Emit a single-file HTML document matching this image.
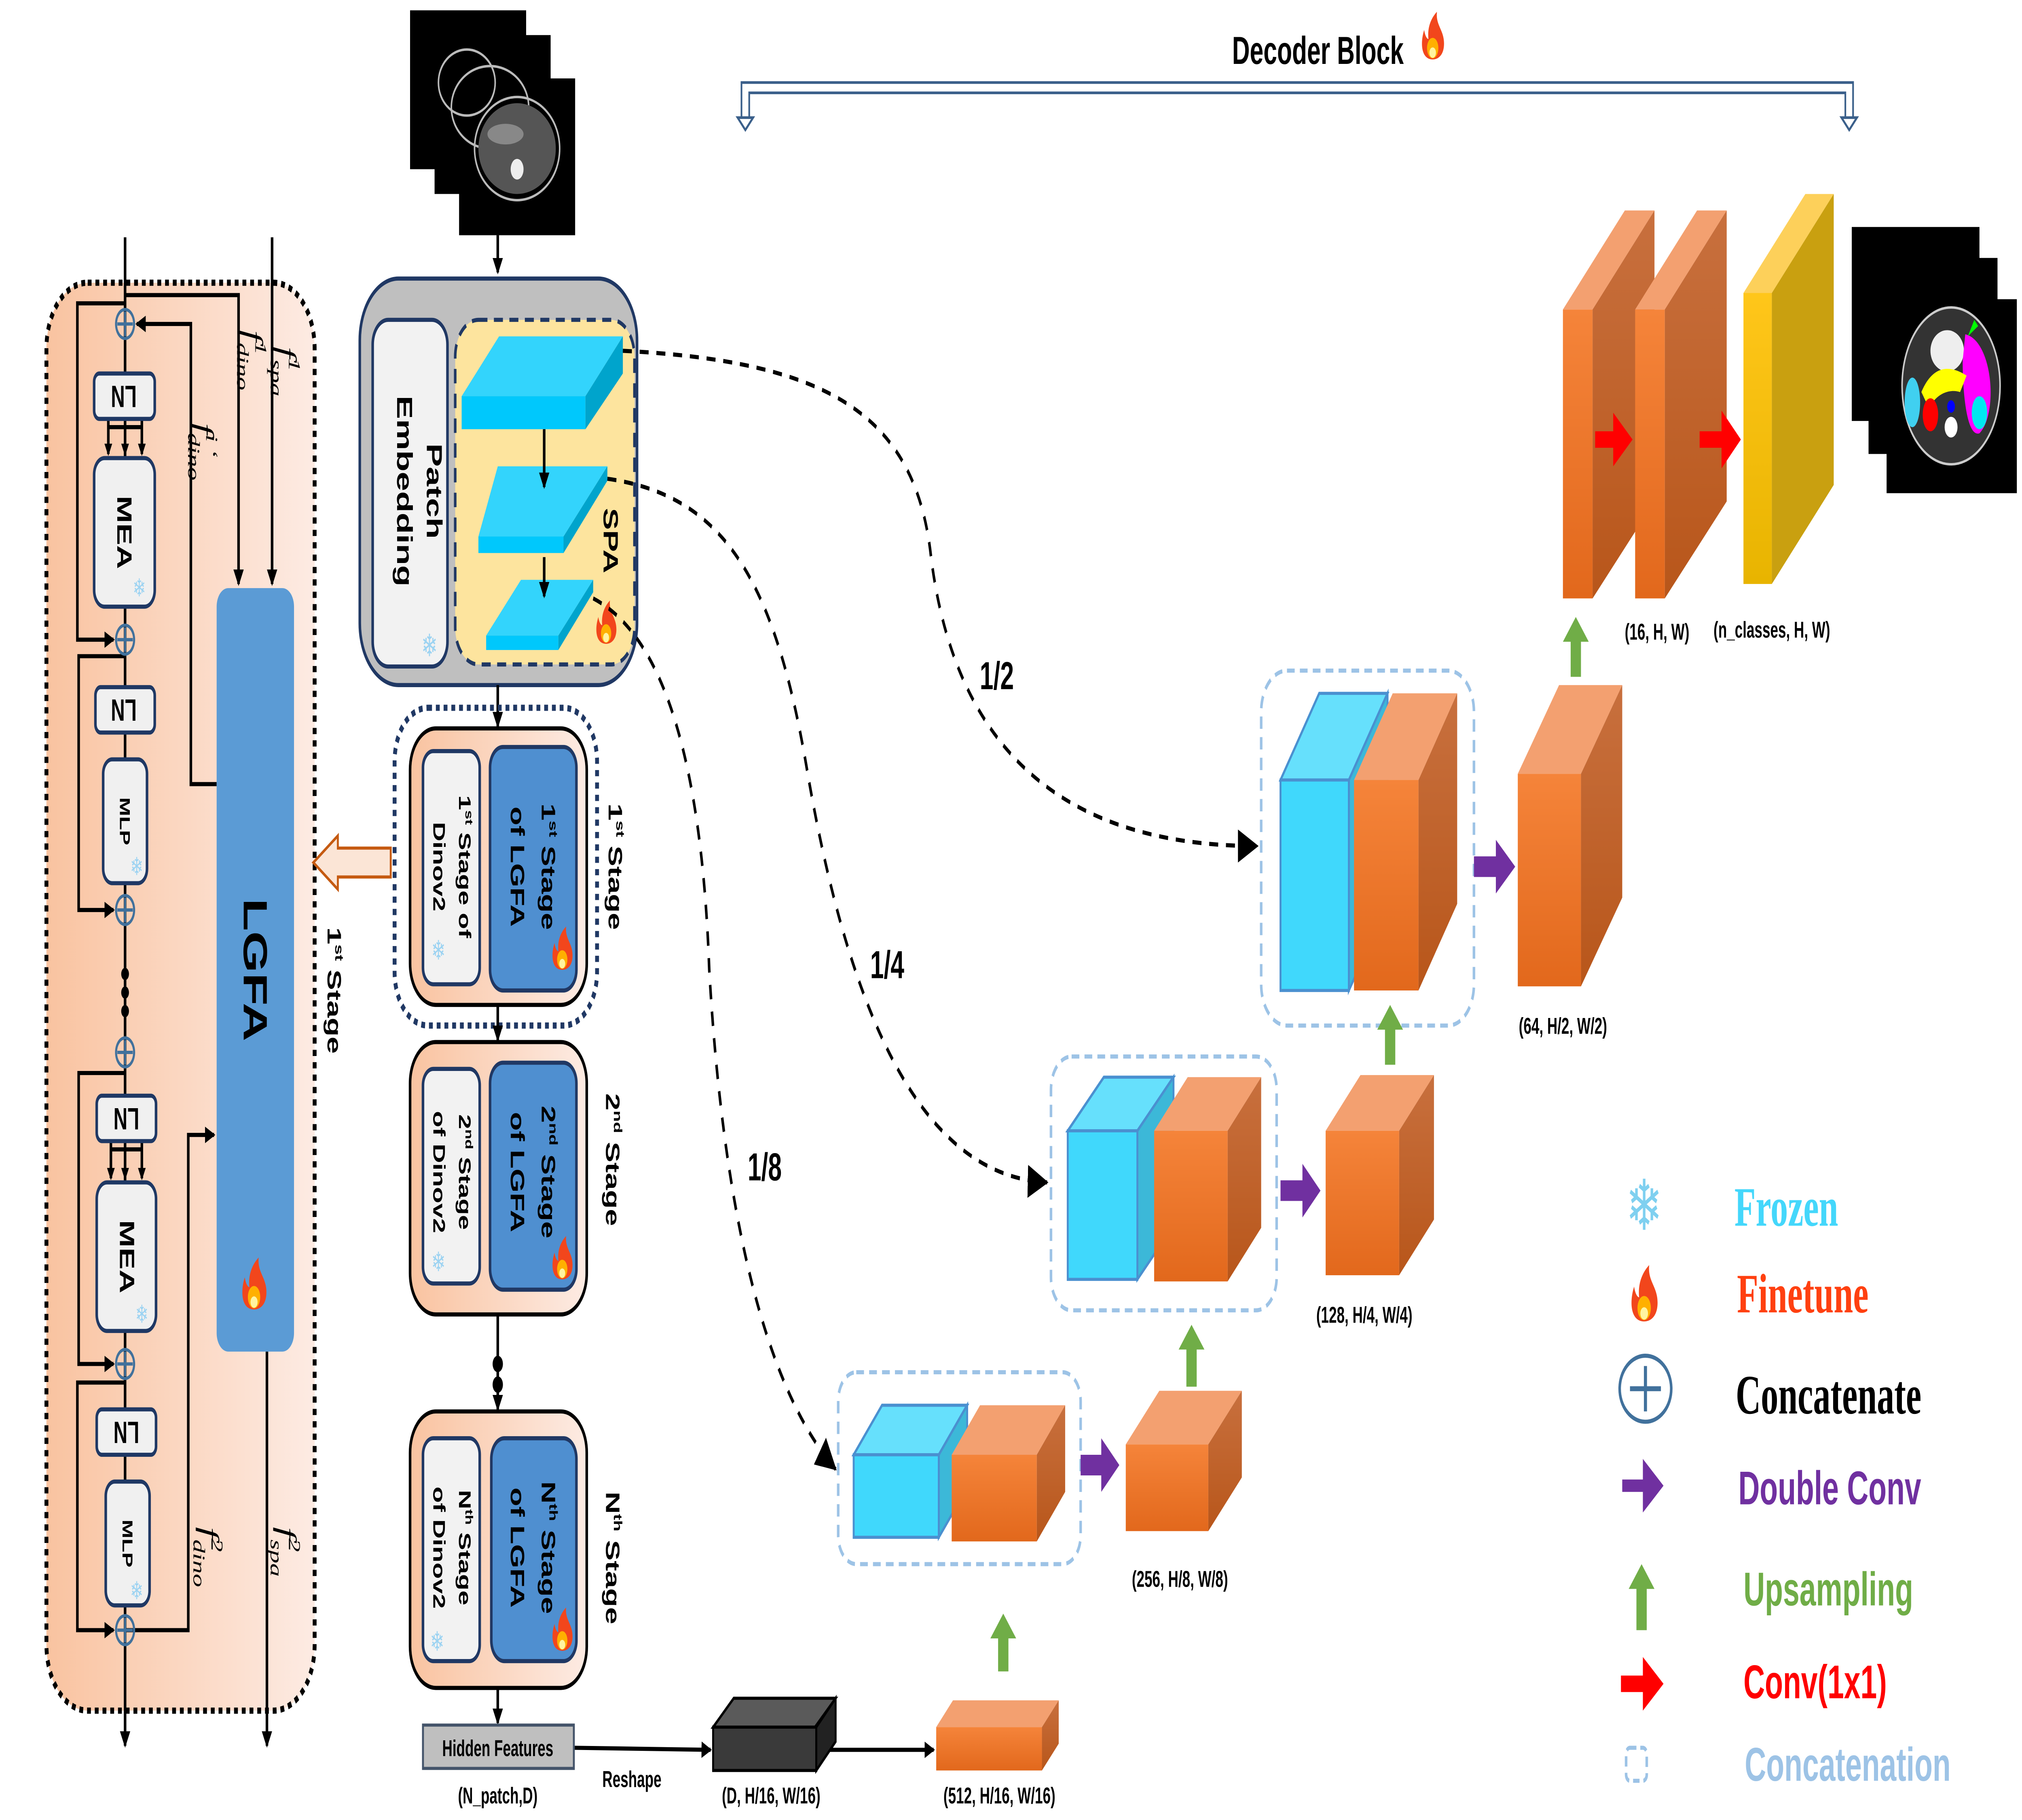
<!DOCTYPE html>
<html><head><meta charset="utf-8"><style>html,body{margin:0;padding:0;background:#fff;width:100%;height:100%;overflow:hidden}svg{display:block;width:100vw;height:100vh}</style></head>
<body>
<svg xmlns="http://www.w3.org/2000/svg" viewBox="0 0 1568 882" preserveAspectRatio="none">
<defs>
<marker id="ah" markerWidth="8" markerHeight="8" refX="7" refY="4" orient="auto" markerUnits="userSpaceOnUse"><path d="M0,0 L8,4 L0,8 Z" fill="#000"/></marker>
<marker id="ahb" markerWidth="16" markerHeight="16" refX="15" refY="8" orient="auto" markerUnits="userSpaceOnUse"><path d="M0,0 L16,8 L0,16 Z" fill="#000"/></marker>
<linearGradient id="peach" x1="0" x2="1" y1="0" y2="0"><stop offset="0" stop-color="#f9c3a0"/><stop offset="1" stop-color="#fdebe3"/></linearGradient>
<linearGradient id="ofront" x1="0" x2="0" y1="0" y2="1"><stop offset="0" stop-color="#f5843a"/><stop offset="1" stop-color="#e2681c"/></linearGradient>
<linearGradient id="oside" x1="0" x2="0" y1="0" y2="1"><stop offset="0" stop-color="#c8703e"/><stop offset="1" stop-color="#b8561a"/></linearGradient>
<linearGradient id="yfront" x1="0" x2="0" y1="0" y2="1"><stop offset="0" stop-color="#ffc61a"/><stop offset="1" stop-color="#e8b400"/></linearGradient>
<g id="fire"><path d="M0,8 C-8,8 -9,1 -6,-5 C-5,-1 -3,-1 -3,-1 C-4,-7 0,-11 3,-13 C2,-7 8,-5 8,1 C8,6 4,8 0,8Z" fill="#f2461c"/><ellipse cx="0" cy="3" rx="4" ry="4.5" fill="#ffb000"/><ellipse cx="0" cy="5" rx="2.3" ry="2.3" fill="#fff3a0"/></g>
</defs>

<!-- ============ LEFT PANEL ============ -->
<rect x="36" y="137" width="208" height="692" rx="32" fill="url(#peach)" stroke="#000" stroke-width="3" stroke-dasharray="3,3"/>
<g stroke="#000" stroke-width="2" fill="none">
<line x1="97" y1="115" x2="97" y2="846" marker-end="url(#ah)"/>
<polyline points="97,143 185,143 185,283" marker-end="url(#ah)"/>
<line x1="211" y1="115" x2="211" y2="283" marker-end="url(#ah)"/>
<polyline points="168,380 148,380 148,157 106,157" marker-end="url(#ah)"/>
<polyline points="97,790 146,790 146,550 166,550" marker-end="url(#ah)"/>
<line x1="207" y1="655" x2="207" y2="846" marker-end="url(#ah)"/>
<polyline points="97,147 60,147 60,310 88,310" marker-end="url(#ah)"/>
<polyline points="97,318 61,318 61,441 88,441" marker-end="url(#ah)"/>
<polyline points="97,520 61,520 61,661 88,661" marker-end="url(#ah)"/>
<polyline points="97,670 60,670 60,790 88,790" marker-end="url(#ah)"/>
<polyline points="84,203 84,220"/><polyline points="110,203 110,220"/><polyline points="84,207 110,207"/>
<polyline points="86,553 86,571"/><polyline points="110,553 110,571"/><polyline points="86,557 110,557"/>
</g>
<g fill="#000"><path d="M81,215 L87,215 L84,221Z"/><path d="M107,215 L113,215 L110,221Z"/><path d="M94,215 L100,215 L97,221Z"/>
<path d="M83,566 L89,566 L86,572Z"/><path d="M107,566 L113,566 L110,572Z"/><path d="M94,566 L100,566 L97,572Z"/>
<circle cx="97" cy="472" r="3"/><circle cx="97" cy="481" r="3"/><circle cx="97" cy="490" r="3"/></g>
<g fill="none" stroke="#41719c" stroke-width="1.6">
<circle cx="97" cy="157" r="7"/><circle cx="97" cy="310" r="7"/><circle cx="97" cy="441" r="7"/><circle cx="97" cy="510" r="7"/><circle cx="97" cy="661" r="7"/><circle cx="97" cy="790" r="7"/>
<path d="M91,157h12M97,151v12M91,310h12M97,304v12M91,441h12M97,435v12M91,510h12M97,504v12M91,661h12M97,655v12M91,790h12M97,784v12"/>
</g>
<g fill="#f0f0f0" stroke="#1f3864" stroke-width="2">
<rect x="73" y="181" width="47" height="22" rx="4"/><rect x="73" y="222" width="47" height="72" rx="8"/>
<rect x="74" y="333" width="46" height="22" rx="4"/><rect x="80" y="368" width="34" height="60" rx="7"/>
<rect x="75" y="531" width="46" height="22" rx="4"/><rect x="75" y="573" width="46" height="72" rx="8"/>
<rect x="75" y="683" width="46" height="22" rx="4"/><rect x="82" y="718" width="34" height="60" rx="7"/>
</g>
<g font-family="Liberation Sans, sans-serif" font-weight="bold" fill="#000" text-anchor="middle">
<text transform="translate(96,192) rotate(180)" font-size="15" dy="5">LN</text>
<text transform="translate(96,344) rotate(180)" font-size="15" dy="5">LN</text>
<text transform="translate(98,542) rotate(180)" font-size="15" dy="5">LN</text>
<text transform="translate(98,694) rotate(180)" font-size="15" dy="5">LN</text>
<text transform="translate(96,258) rotate(90)" font-size="16" dy="5">MEA</text>
<text transform="translate(98,609) rotate(90)" font-size="16" dy="5">MEA</text>
<text transform="translate(97,398) rotate(90)" font-size="11" dy="4">MLP</text>
<text transform="translate(99,748) rotate(90)" font-size="11" dy="4">MLP</text>
</g>
<g font-family="DejaVu Sans, sans-serif" fill="#9cd3f2" font-size="12" text-anchor="middle">
<text x="108" y="289">❄</text><text x="106" y="424">❄</text><text x="110" y="641">❄</text><text x="106" y="775">❄</text>
</g>
<rect x="168" y="285" width="60" height="370" rx="9" fill="#5b9bd5"/>
<text transform="translate(198,470) rotate(90)" font-family="Liberation Sans, sans-serif" font-weight="bold" font-size="26" text-anchor="middle" dy="9">LGFA</text>
<use href="#fire" transform="translate(197,625) scale(1.2)"/>
<g font-family="Liberation Serif, serif" font-style="italic" font-size="20" fill="#000">
<text transform="translate(216,168) rotate(90)">f<tspan font-size="13" dy="-8">1</tspan><tspan font-size="13" dx="-6" dy="14">spa</tspan></text>
<text transform="translate(190,160) rotate(90)">f<tspan font-size="13" dy="-8">1</tspan><tspan font-size="13" dx="-6" dy="14">dino</tspan></text>
<text transform="translate(152,205) rotate(90)">f<tspan font-size="13" dy="-8">i ‘</tspan><tspan font-size="13" dx="-12" dy="14">dino</tspan></text>
<text transform="translate(156,740) rotate(90)">f<tspan font-size="13" dy="-8">2</tspan><tspan font-size="13" dx="-6" dy="14">dino</tspan></text>
<text transform="translate(216,740) rotate(90)">f<tspan font-size="13" dy="-8">2</tspan><tspan font-size="13" dx="-6" dy="14">spa</tspan></text>
</g>
<text transform="translate(254,480) rotate(90)" font-family="Liberation Sans, sans-serif" font-weight="bold" font-size="15" text-anchor="middle">1<tspan font-size="9" dy="-6">st</tspan><tspan dy="6"> Stage</tspan></text>
<path d="M243,418 L262,405 L262,411 L303,411 L303,425 L262,425 L262,431 Z" fill="#fbe5d6" stroke="#c55a11" stroke-width="1.5"/>

<!-- ============ ENCODER COLUMN ============ -->
<rect x="318" y="5" width="90" height="77" fill="#000"/>
<rect x="337" y="17" width="90" height="77" fill="#000"/>
<rect x="356" y="38" width="90" height="76" fill="#000"/>
<g fill="none" stroke="#bbb" stroke-width="1.2"><ellipse cx="401" cy="72" rx="33" ry="25"/><ellipse cx="380" cy="52" rx="30" ry="20"/><ellipse cx="362" cy="40" rx="22" ry="16"/></g>
<ellipse cx="401" cy="72" rx="30" ry="22" fill="#555"/><ellipse cx="401" cy="82" rx="5" ry="5" fill="#eee"/><ellipse cx="392" cy="65" rx="14" ry="5" fill="#888"/>
<line x1="386" y1="114" x2="386" y2="132" stroke="#000" stroke-width="2" marker-end="url(#ah)"/>

<rect x="279" y="135" width="215" height="197" rx="30" fill="#bfbfbf" stroke="#203864" stroke-width="2"/>
<rect x="289" y="155" width="58" height="168" rx="12" fill="#f2f2f2" stroke="#203864" stroke-width="2"/>
<text transform="translate(331,238) rotate(90)" font-family="Liberation Sans, sans-serif" font-weight="bold" font-size="17" text-anchor="middle">Patch</text>
<text transform="translate(308,238) rotate(90)" font-family="Liberation Sans, sans-serif" font-weight="bold" font-size="17" text-anchor="middle">Embedding</text>
<text x="333" y="318" font-family="DejaVu Sans, sans-serif" fill="#9cd3f2" font-size="15" text-anchor="middle">❄</text>
<rect x="353" y="155" width="139" height="167" rx="18" fill="#fde49e" stroke="#203864" stroke-width="2" stroke-dasharray="7,5"/>
<g>
<polygon points="358,192 387,163 483,163 454,192" fill="#33d4fc"/><rect x="358" y="192" width="96" height="16" fill="#00c8fc"/><polygon points="454,192 483,163 483,181 454,208" fill="#00a4cc"/>
<polygon points="371,260 386,226 471,226 437,260" fill="#33d4fc"/><rect x="371" y="260" width="66" height="8" fill="#00c8fc"/><polygon points="437,260 471,226 471,233 437,268" fill="#00a4cc"/>
<polygon points="377,308 404,281 460,281 433,308" fill="#33d4fc"/><rect x="377" y="308" width="56" height="7" fill="#00c8fc"/><polygon points="433,308 460,281 460,287 433,315" fill="#00a4cc"/>
</g>
<line x1="422" y1="208" x2="422" y2="236" stroke="#000" stroke-width="2" marker-end="url(#ah)"/>
<line x1="422" y1="270" x2="422" y2="289" stroke="#000" stroke-width="2" marker-end="url(#ah)"/>
<text transform="translate(468,262) rotate(90)" font-family="Liberation Sans, sans-serif" font-weight="bold" font-size="16" text-anchor="middle">SPA</text>
<use href="#fire" transform="translate(470,304)"/>
<line x1="386" y1="332" x2="386" y2="352" stroke="#000" stroke-width="2" marker-end="url(#ah)"/>

<!-- stage boxes -->
<rect x="306" y="343" width="157" height="154" rx="26" fill="none" stroke="#203864" stroke-width="3" stroke-dasharray="3,3"/>
<g stroke="#000" stroke-width="2">
<rect x="318" y="353" width="137" height="134" rx="20" fill="url(#peach)"/>
<rect x="318" y="505" width="137" height="132" rx="20" fill="url(#peach)"/>
<rect x="318" y="684" width="137" height="134" rx="20" fill="url(#peach)"/>
</g>
<g stroke="#203864" stroke-width="2">
<rect x="328" y="364" width="44" height="113" rx="8" fill="#f2f2f2"/><rect x="380" y="362" width="67" height="118" rx="10" fill="#4f8fd0"/>
<rect x="328" y="518" width="44" height="104" rx="8" fill="#f2f2f2"/><rect x="380" y="515" width="67" height="110" rx="10" fill="#4f8fd0"/>
<rect x="328" y="697" width="44" height="108" rx="8" fill="#f2f2f2"/><rect x="381" y="697" width="66" height="108" rx="10" fill="#4f8fd0"/>
</g>
<g font-family="Liberation Sans, sans-serif" font-weight="bold" font-size="15" text-anchor="middle" fill="#000">
<text transform="translate(420,420) rotate(90)">1<tspan font-size="9" dy="-6">st</tspan><tspan dy="6"> Stage</tspan></text>
<text transform="translate(396,420) rotate(90)">of  LGFA</text>
<text transform="translate(356,420) rotate(90)" font-size="13">1<tspan font-size="8" dy="-5">st</tspan><tspan dy="5"> Stage of</tspan></text>
<text transform="translate(336,420) rotate(90)" font-size="13">Dinov2</text>
<text transform="translate(420,568) rotate(90)">2<tspan font-size="9" dy="-6">nd</tspan><tspan dy="6"> Stage</tspan></text>
<text transform="translate(396,568) rotate(90)">of  LGFA</text>
<text transform="translate(356,568) rotate(90)" font-size="13">2<tspan font-size="8" dy="-5">nd</tspan><tspan dy="5"> Stage</tspan></text>
<text transform="translate(336,568) rotate(90)" font-size="13">of Dinov2</text>
<text transform="translate(420,750) rotate(90)">N<tspan font-size="9" dy="-6">th</tspan><tspan dy="6"> Stage</tspan></text>
<text transform="translate(396,750) rotate(90)">of  LGFA</text>
<text transform="translate(356,750) rotate(90)" font-size="13">N<tspan font-size="8" dy="-5">th</tspan><tspan dy="5"> Stage</tspan></text>
<text transform="translate(336,750) rotate(90)" font-size="13">of Dinov2</text>
<text transform="translate(472,420) rotate(90)">1<tspan font-size="9" dy="-6">st</tspan><tspan dy="6"> Stage</tspan></text>
<text transform="translate(470,562) rotate(90)">2<tspan font-size="9" dy="-6">nd</tspan><tspan dy="6"> Stage</tspan></text>
<text transform="translate(470,755) rotate(90)">N<tspan font-size="9" dy="-6">th</tspan><tspan dy="6"> Stage</tspan></text>
</g>
<g font-family="DejaVu Sans, sans-serif" fill="#9cd3f2" font-size="13" text-anchor="middle">
<text x="340" y="465">❄</text><text x="340" y="616">❄</text><text x="339" y="800">❄</text>
</g>
<use href="#fire" transform="translate(436,462)"/><use href="#fire" transform="translate(436,612)"/><use href="#fire" transform="translate(436,792)"/>
<g stroke="#000" stroke-width="2" fill="none">
<line x1="386" y1="487" x2="386" y2="504" marker-end="url(#ah)"/>
<line x1="386" y1="637" x2="386" y2="683" marker-end="url(#ah)"/>
<line x1="386" y1="818" x2="386" y2="835" marker-end="url(#ah)"/>
<line x1="445" y1="847" x2="551" y2="848" marker-end="url(#ah)"/>
<line x1="640" y1="848" x2="724" y2="848" marker-end="url(#ah)"/>
</g>
<circle cx="386" cy="661" r="4" fill="#000"/><circle cx="386" cy="671" r="4" fill="#000"/>
<rect x="328" y="836" width="117" height="21" fill="#bfbfbf" stroke="#44546a" stroke-width="1.5"/>
<g font-family="Liberation Sans, sans-serif" font-weight="bold" text-anchor="middle" fill="#000" font-size="11">
<text x="386" y="851">Hidden Features</text>
<text x="386" y="874">(N_patch,D)</text>
<text x="490" y="866">Reshape</text>
<text x="598" y="874">(D, H/16, W/16)</text>
<text x="775" y="874">(512, H/16, W/16)</text>
<text x="915" y="769">(256, H/8, W/8)</text>
<text x="1058" y="641">(128, H/4, W/4)</text>
<text x="1212" y="501">(64, H/2, W/2)</text>
<text x="1285" y="310">(16, H, W)</text>
<text x="1374" y="309">(n_classes, H, W)</text>
</g>
<!-- black cube -->
<polygon points="553,837 569,823 648,823 632,837" fill="#5a5a5a" stroke="#000" stroke-width="1.5"/>
<rect x="553" y="837" width="80" height="21" fill="#3a3a3a" stroke="#000" stroke-width="1.5"/>
<polygon points="633,837 648,823 648,844 633,858" fill="#222" stroke="#000" stroke-width="1.5"/>
<!-- orange flat -->
<polygon points="726,837 739,824 821,824 808,837" fill="#f3a070"/><rect x="726" y="837" width="82" height="21" fill="url(#ofront)"/><polygon points="808,837 821,824 821,845 808,858" fill="url(#oside)"/>

<!-- dashed skip connections -->
<g fill="none" stroke="#000" stroke-width="2" stroke-dasharray="7,6">
<path d="M483,170 C640,175 710,200 722,270 C740,360 820,410 975,410" marker-end="url(#ahb)"/>
<path d="M471,232 C560,240 600,280 625,370 C660,500 720,570 812,573" marker-end="url(#ahb)"/>
<path d="M460,290 C520,310 545,380 550,470 C560,580 590,670 648,712" marker-end="url(#ahb)"/>
</g>
<g font-family="Liberation Sans, sans-serif" font-weight="bold" font-size="19" fill="#000" text-anchor="middle">
<text x="773" y="334">1/2</text><text x="688" y="474">1/4</text><text x="593" y="572">1/8</text>
</g>

<!-- decoder title -->
<text x="1022" y="31" font-family="Liberation Sans, sans-serif" font-weight="bold" font-size="19" text-anchor="middle">Decoder Block</text>
<use href="#fire" transform="translate(1111,20) scale(1.1)"/>
<g fill="none" stroke="#3a5f8a" stroke-width="1.3">
<path d="M575,57 L575,40 L1437,40 L1437,57"/><path d="M581,57 L581,45 L1431,45 L1431,57"/>
<path d="M572,57 L578,63 L584,57Z" fill="#fff"/><path d="M1428,57 L1434,63 L1440,57Z" fill="#fff"/>
</g>

<!-- concat boxes -->
<g fill="none" stroke="#9dc3e6" stroke-width="2" stroke-dasharray="6,4">
<rect x="650" y="665" width="188" height="93" rx="14"/>
<rect x="815" y="512" width="175" height="123" rx="16"/>
<rect x="978" y="325" width="165" height="172" rx="20"/>
</g>
<!-- level 3 -->
<polygon points="662,705 684,681 750,681 728,705" fill="#66e0fc" stroke="#4a90d0" stroke-width="1.5"/><polygon points="728,705 750,681 750,721 728,745" fill="#3cb8d8" stroke="#4a90d0" stroke-width="1.5"/><rect x="662" y="705" width="66" height="40" fill="#40d8fc" stroke="#4a90d0" stroke-width="1.5"/>
<polygon points="738,705 760,681 826,681 804,705" fill="#f3a070"/><rect x="738" y="705" width="66" height="42" fill="url(#ofront)"/><polygon points="804,705 826,681 826,723 804,747" fill="url(#oside)"/>
<polygon points="873,700 899,674 963,674 937,700" fill="#f3a070"/><rect x="873" y="700" width="64" height="42" fill="url(#ofront)"/><polygon points="937,700 963,674 963,716 937,742" fill="url(#oside)"/>
<!-- level 2 -->
<polygon points="828,548 856,522 910,522 882,548" fill="#66e0fc" stroke="#4a90d0" stroke-width="1.5"/><polygon points="882,548 910,522 910,594 882,620" fill="#3cb8d8" stroke="#4a90d0" stroke-width="1.5"/><rect x="828" y="548" width="54" height="72" fill="#40d8fc" stroke="#4a90d0" stroke-width="1.5"/>
<polygon points="895,548 921,522 978,522 952,548" fill="#f3a070"/><rect x="895" y="548" width="57" height="73" fill="url(#ofront)"/><polygon points="952,548 978,522 978,595 952,621" fill="url(#oside)"/>
<polygon points="1028,548 1055,521 1112,521 1085,548" fill="#f3a070"/><rect x="1028" y="548" width="57" height="70" fill="url(#ofront)"/><polygon points="1085,548 1112,521 1112,591 1085,618" fill="url(#oside)"/>
<!-- level 1 -->
<polygon points="993,378 1023,336 1076,336 1046,378" fill="#66e0fc" stroke="#4a90d0" stroke-width="1.5"/><polygon points="1046,378 1076,336 1076,438 1046,480" fill="#3cb8d8" stroke="#4a90d0" stroke-width="1.5"/><rect x="993" y="378" width="53" height="102" fill="#40d8fc" stroke="#4a90d0" stroke-width="1.5"/>
<polygon points="1050,378 1080,336 1130,336 1100,378" fill="#f3a070"/><rect x="1050" y="378" width="50" height="102" fill="url(#ofront)"/><polygon points="1100,378 1130,336 1130,438 1100,480" fill="url(#oside)"/>
<polygon points="1177,375 1209,332 1258,332 1226,375" fill="#f3a070"/><rect x="1177" y="375" width="49" height="103" fill="url(#ofront)"/><polygon points="1226,375 1258,332 1258,435 1226,478" fill="url(#oside)"/>
<!-- top slabs -->
<polygon points="1212,150 1260,102 1283,102 1235,150" fill="#f3a070"/><rect x="1212" y="150" width="23" height="140" fill="url(#ofront)"/><polygon points="1235,150 1283,102 1283,243 1235,290" fill="url(#oside)"/>
<polygon points="1268,150 1316,102 1339,102 1291,150" fill="#f3a070"/><rect x="1268" y="150" width="23" height="140" fill="url(#ofront)"/><polygon points="1291,150 1339,102 1339,243 1291,290" fill="url(#oside)"/>
<polygon points="1352,142 1400,94 1422,94 1374,142" fill="#fdd05a"/><rect x="1352" y="142" width="22" height="141" fill="url(#yfront)"/><polygon points="1374,142 1422,94 1422,235 1374,283" fill="#c9a010"/>
<!-- arrows -->
<g fill="#7030a0">
<path d="M838,705 h16 v-8 l14,13 l-14,13 v-8 h-16Z"/>
<path d="M993,572 h17 v-8 l14,13 l-14,13 v-8 h-17Z"/>
<path d="M1143,415 h17 v-8 l15,13 l-15,13 v-8 h-17Z"/>
</g>
<g fill="#70ad47">
<path d="M774,810 v-16 h-6 l10,-12 l10,12 h-6 v16Z"/>
<path d="M920,672 v-18 h-6 l10,-12 l10,12 h-6 v18Z"/>
<path d="M1074,516 v-17 h-6 l10,-12 l10,12 h-6 v17Z"/>
<path d="M1218,328 v-17 h-6 l10,-12 l10,12 h-6 v17Z"/>
</g>
<g fill="#ff0000">
<path d="M1237,209 h14 v-9 l15,13 l-15,13 v-9 h-14Z"/>
<path d="M1318,209 h17 v-10 l15,14 l-15,14 v-10 h-17Z"/>
</g>
<!-- output images -->
<rect x="1436" y="110" width="99" height="94" fill="#000"/>
<rect x="1449" y="125" width="100" height="95" fill="#000"/>
<rect x="1463" y="145" width="101" height="94" fill="#000"/>
<ellipse cx="1513" cy="187" rx="38" ry="38" fill="#333" stroke="#ccc" stroke-width="1.2"/>
<ellipse cx="1510" cy="170" rx="13" ry="10" fill="#eee"/>
<path d="M1524,162 C1545,165 1550,200 1535,210 C1525,212 1522,190 1522,175Z" fill="#ff00ff"/>
<path d="M1490,190 C1500,175 1515,178 1525,182 L1520,190 C1510,188 1500,192 1496,198Z" fill="#ffff00"/>
<ellipse cx="1483" cy="195" rx="6" ry="12" fill="#40d0f0"/>
<ellipse cx="1535" cy="200" rx="6" ry="8" fill="#00e8f0"/>
<ellipse cx="1497" cy="201" rx="6" ry="8" fill="#ff0000"/>
<circle cx="1513" cy="197" r="3" fill="#0000ff"/>
<path d="M1526,163 l5,-8 l3,3z" fill="#00ff00"/>
<ellipse cx="1513" cy="207" rx="5" ry="5" fill="#fff"/>

<!-- legend -->
<text x="1275" y="596" font-family="DejaVu Sans, sans-serif" font-size="34" fill="#7fd0f0" text-anchor="middle">❄</text>
<use href="#fire" transform="translate(1275,630) scale(1.3)"/>
<ellipse cx="1276" cy="673" rx="20" ry="16" fill="none" stroke="#41719c" stroke-width="2"/>
<path d="M1264,673 h24 M1276,662 v22" stroke="#41719c" stroke-width="2.4"/>
<path d="M1258,717 h16 v-10 l16,13 l-16,13 v-10 h-16Z" fill="#7030a0"/>
<path d="M1269,790 v-20 h-6 l10,-12 l10,12 h-6 v20Z" fill="#70ad47"/>
<path d="M1257,812 h17 v-9 l16,13 l-16,13 v-9 h-17Z" fill="#ff0000"/>
<rect x="1261" y="847" width="16" height="16" rx="3" fill="none" stroke="#9dc3e6" stroke-width="2" stroke-dasharray="5,3"/>
<g font-weight="bold">
<text x="1345" y="594" font-family="Liberation Serif, serif" font-size="27" fill="#44d7fb">Frozen</text>
<text x="1347" y="636" font-family="Liberation Serif, serif" font-size="27" fill="#ff4010">Finetune</text>
<text x="1346" y="685" font-family="Liberation Serif, serif" font-size="27" fill="#000">Concatenate</text>
<text x="1348" y="729" font-family="Liberation Sans, sans-serif" font-size="23" fill="#7030a0">Double Conv</text>
<text x="1352" y="778" font-family="Liberation Sans, sans-serif" font-size="23" fill="#70ad47">Upsampling</text>
<text x="1352" y="823" font-family="Liberation Sans, sans-serif" font-size="23" fill="#ff0000">Conv(1x1)</text>
<text x="1353" y="863" font-family="Liberation Sans, sans-serif" font-size="23" fill="#9dc3e6">Concatenation</text>
</g>
</svg>
</body></html>
